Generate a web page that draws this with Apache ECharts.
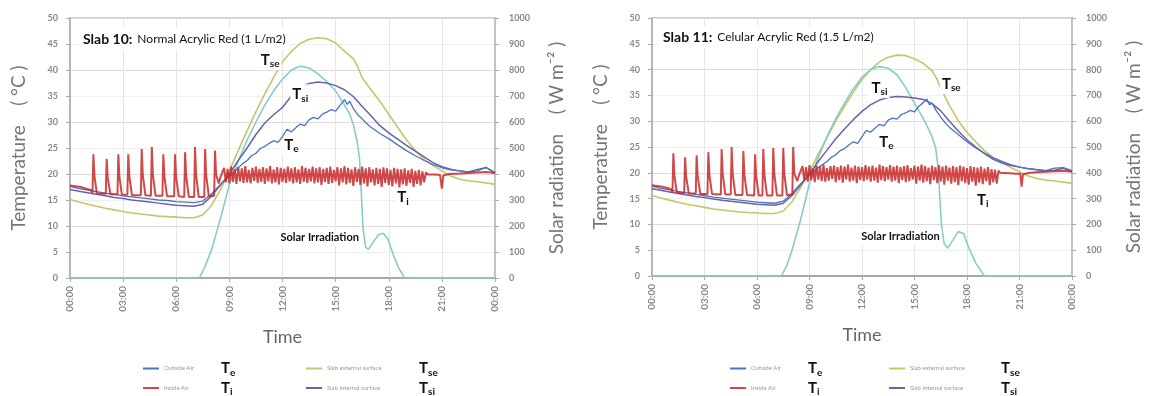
<!DOCTYPE html>
<html>
<head>
<meta charset="utf-8">
<script src="https://cdn.jsdelivr.net/npm/echarts@6/dist/echarts.min.js"></script>
<style>
html, body { margin: 0; padding: 0; background: #fff; }
#chart { width: 1150px; height: 396px; }
</style>
</head>
<body>
<div id="chart"></div>
<script>
// tick labels
var timeLabels = ['00:00', '03:00', '06:00', '09:00', '12:00', '15:00', '18:00', '21:00', '00:00'];

// ---- Slab 10 : [hour, value] ----
var te10 = [[0,17.6],[0.5,17.2],[1,16.9],[1.5,16.6],[2,16.3],[2.5,16.1],[3,15.8],[3.5,15.6],[4,15.4],[4.5,15.2],[5,15.0],[5.5,14.9],[6,14.7],[6.5,14.6],[7,14.5],[7.5,14.8],[8,16.2],[8.5,18.0],[9,19.6],[9.25,20.3],[9.5,21.2],[9.75,22.0],[10,22.6],[10.25,23.5],[10.5,24.0],[10.75,24.9],[11,25.3],[11.25,25.9],[11.5,26.4],[11.75,26.1],[12,27.2],[12.25,28.6],[12.5,28.1],[12.75,28.9],[13,29.6],[13.25,29.3],[13.5,30.4],[13.75,30.9],[14,30.6],[14.25,31.5],[14.5,31.9],[14.75,32.4],[15,32.1],[15.25,33.2],[15.5,34.3],[15.65,33.4],[15.8,34.0],[16,32.6],[16.25,31.4],[16.5,30.6],[16.75,29.7],[17,29.0],[17.5,27.8],[18,26.8],[18.5,25.6],[19,24.5],[19.5,23.5],[20,22.6],[20.5,21.8],[21,21.2],[21.5,20.8],[22,20.6],[22.5,20.4],[23,20.9],[23.5,21.2],[24,20.3]];
var tsi10 = [[0,17.0],[0.5,16.7],[1,16.4],[1.5,16.1],[2,15.8],[2.5,15.5],[3,15.3],[3.5,15.0],[4,14.8],[4.5,14.6],[5,14.4],[5.5,14.2],[6,14.0],[6.5,13.9],[7,13.8],[7.5,14.2],[8,15.8],[8.5,17.9],[9,20.0],[9.5,22.6],[10,25.0],[10.5,27.6],[11,29.8],[11.5,31.4],[12,32.8],[12.5,35.0],[13,36.6],[13.5,37.4],[14,37.7],[14.5,37.5],[15,37.0],[15.5,36.2],[16,34.9],[16.5,33.0],[17,31.2],[17.5,29.3],[18,27.9],[18.5,26.7],[19,25.5],[19.5,24.4],[20,23.3],[20.5,22.2],[21,21.4],[21.5,20.9],[22,20.6],[22.5,20.4],[23,20.6],[23.5,21.3],[24,20.1]];
var tse10 = [[0,15.1],[0.5,14.6],[1,14.2],[1.5,13.8],[2,13.4],[2.5,13.1],[3,12.8],[3.5,12.5],[4,12.3],[4.5,12.1],[5,11.9],[5.5,11.8],[6,11.7],[6.5,11.6],[7,11.6],[7.5,12.1],[8,14.0],[8.5,17.0],[9,20.6],[9.5,24.5],[10,28.3],[10.5,32.0],[11,35.4],[11.5,38.6],[12,41.6],[12.5,43.6],[13,45.1],[13.5,45.9],[14,46.2],[14.5,46.0],[15,45.2],[15.5,43.6],[16,42.2],[16.25,40.6],[16.5,38.5],[17,36.2],[17.5,34.0],[18,31.5],[18.5,29.0],[19,26.6],[19.5,24.5],[20,22.8],[20.5,21.6],[21,20.6],[21.5,19.6],[22,19.0],[22.5,18.7],[23,18.5],[23.5,18.3],[24,18.0]];
var solar10 = [[0,0],[7.3,0],[7.6,40],[8,110],[8.5,230],[9,360],[9.5,450],[10,530],[10.5,600],[11,665],[11.5,720],[12,765],[12.5,800],[13,815],[13.5,808],[14,785],[14.5,755],[15,720],[15.5,665],[15.8,630],[16,590],[16.2,530],[16.35,460],[16.45,330],[16.55,190],[16.7,118],[16.85,110],[17.1,135],[17.4,165],[17.7,172],[17.95,150],[18.25,90],[18.55,40],[18.9,0],[24,0]];
var ti10Night = [[0,17.8],[0.6,17.5],[1.2,16.9],
  [1.27,16.3],[1.32,23.8],[1.38,19.6],[1.52,16.2],
  [2.02,16.2],[2.07,22.9],[2.13,19.3],[2.28,16.1],
  [2.68,16.1],[2.73,23.8],[2.79,19.5],[2.93,16.0],
  [3.24,16.0],[3.29,23.8],[3.35,19.6],[3.5,15.9],
  [4.0,15.9],[4.05,24.8],[4.11,19.8],[4.26,15.9],
  [4.57,15.8],[4.62,25.2],[4.68,19.9],[4.83,15.8],
  [5.22,15.8],[5.27,23.8],[5.33,19.5],[5.48,15.7],
  [5.88,15.7],[5.93,23.8],[5.99,19.5],[6.14,15.7],
  [6.45,15.6],[6.5,24.2],[6.56,19.6],[6.71,15.6],
  [7.01,15.6],[7.06,25.2],[7.12,19.9],[7.27,15.6],
  [7.58,15.6],[7.63,24.8],[7.69,19.8],[7.84,15.7],
  [8.14,15.8],[8.19,24.5],[8.25,19.9],[8.4,18.2],[8.5,19.4]];
// inside air, every 0.1 h from 8.6 h
var ti10Band = [
  19.6,21.2,18.4,21.0,18.2,21.4,18.5,20.9,18.1,21.3,
  18.6,21.1,18.3,21.5,18.4,20.8,18.2,21.2,18.7,21.4,
  18.3,21.0,18.5,21.3,18.1,21.1,18.6,21.5,18.2,20.9,
  18.4,21.3,18.0,21.2,18.5,21.0,18.3,21.4,18.6,21.1,
  18.2,21.3,18.4,20.9,18.1,21.5,18.5,21.2,18.3,21.0,
  18.6,21.4,18.2,21.1,18.4,21.3,17.9,21.0,18.5,21.2,
  18.1,21.4,18.3,20.8,18.6,21.3,17.8,21.1,18.4,21.5,
  18.0,21.2,18.3,20.9,17.7,21.3,18.5,21.0,17.9,21.4,
  18.2,21.1,17.6,21.3,18.4,20.9,17.8,21.2,18.1,21.0,
  17.5,21.3,18.3,21.1,17.9,20.8,17.6,21.2,18.2,21.0,
  17.4,20.9,18.0,21.1,17.7,20.7,18.3,21.0,17.5,20.6,
  18.1,20.8,17.8,20.5,18.4,20.3,19.9];
var ti10Tail = [[20.3,20.1],[20.6,19.9],[20.9,19.8],[21.0,17.2],[21.08,19.7],[21.4,20.0],[22,20.1],[22.5,20.2],[23,20.3],[23.5,20.4],[24,20.2]];

// ---- Slab 11 ----
var te11 = [[0,17.4],[0.5,17.0],[1,16.7],[1.5,16.4],[2,16.1],[2.5,15.8],[3,15.6],[3.5,15.3],[4,15.1],[4.5,14.9],[5,14.7],[5.5,14.5],[6,14.3],[6.5,14.2],[7,14.1],[7.5,14.5],[8,16.0],[8.5,17.9],[9,19.5],[9.25,20.2],[9.5,21.0],[9.75,21.6],[10,22.2],[10.25,23.0],[10.5,23.5],[10.75,24.3],[11,24.7],[11.25,25.4],[11.5,26.0],[11.75,25.7],[12,27.0],[12.25,28.2],[12.5,27.9],[12.75,28.7],[13,29.4],[13.25,29.1],[13.5,30.2],[13.75,30.6],[14,30.4],[14.25,31.3],[14.5,31.6],[14.75,32.1],[15,31.8],[15.25,32.9],[15.5,33.6],[15.7,34.3],[15.85,33.2],[16,33.5],[16.25,32.0],[16.5,30.8],[16.75,29.7],[17,28.8],[17.5,27.4],[18,26.0],[18.5,24.8],[19,23.8],[19.5,22.9],[20,22.2],[20.5,21.6],[21,21.1],[21.5,20.8],[22,20.6],[22.5,20.4],[23,20.9],[23.5,21.0],[24,20.4]];
var tsi11 = [[0,16.9],[0.5,16.6],[1,16.3],[1.5,16.0],[2,15.7],[2.5,15.4],[3,15.2],[3.5,14.9],[4,14.7],[4.5,14.5],[5,14.3],[5.5,14.1],[6,13.9],[6.5,13.8],[7,13.7],[7.5,14.1],[8,15.6],[8.5,17.7],[9,19.8],[9.5,22.2],[10,24.4],[10.5,26.6],[11,28.5],[11.5,30.3],[12,31.9],[12.5,33.2],[13,34.1],[13.5,34.6],[14,34.8],[14.5,34.7],[15,34.5],[15.5,34.2],[16,33.4],[16.5,32.0],[17,30.0],[17.5,28.1],[18,26.4],[18.5,25.0],[19,23.7],[19.5,22.6],[20,21.9],[20.5,21.4],[21,21.1],[21.5,20.8],[22,20.6],[22.5,20.4],[23,20.5],[23.5,20.9],[24,20.2]];
var tse11 = [[0,15.6],[0.5,15.1],[1,14.7],[1.5,14.3],[2,13.9],[2.5,13.6],[3,13.3],[3.5,13.0],[4,12.8],[4.5,12.6],[5,12.4],[5.5,12.3],[6,12.2],[6.5,12.1],[7,12.1],[7.5,12.6],[8,14.4],[8.5,17.2],[9,20.2],[9.5,23.6],[10,26.8],[10.5,30.0],[11,32.9],[11.5,35.6],[12,38.1],[12.5,40.0],[13,41.5],[13.5,42.4],[14,42.8],[14.5,42.7],[15,42.1],[15.5,41.2],[16,39.8],[16.25,38.4],[16.5,36.4],[17,33.0],[17.5,30.1],[18,27.8],[18.5,26.0],[19,24.3],[19.5,23.0],[20,22.0],[20.5,21.0],[21,20.2],[21.5,19.4],[22,18.9],[22.5,18.6],[23,18.4],[23.5,18.2],[24,18.0]];
var solar11 = [[0,0],[7.4,0],[7.7,40],[8,100],[8.5,220],[9,360],[9.5,460],[10,540],[10.5,610],[11,670],[11.5,725],[12,770],[12.5,800],[13,812],[13.5,805],[14,780],[14.5,730],[15,670],[15.5,610],[15.8,570],[16,540],[16.2,500],[16.35,420],[16.45,300],[16.55,190],[16.7,125],[16.9,108],[17.2,140],[17.5,172],[17.8,165],[18.1,110],[18.5,50],[19,0],[24,0]];
var ti11Night = [[0,17.6],[0.6,17.3],[1.1,16.8],
  [1.17,16.2],[1.22,23.8],[1.28,19.5],[1.42,16.1],
  [1.84,16.1],[1.89,23.0],[1.95,19.3],[2.1,16.0],
  [2.5,16.0],[2.55,23.4],[2.61,19.4],[2.76,15.9],
  [3.17,15.9],[3.22,24.0],[3.28,19.6],[3.43,15.9],
  [3.93,15.8],[3.98,24.6],[4.04,19.8],[4.19,15.8],
  [4.5,15.8],[4.55,25.0],[4.61,19.9],[4.76,15.7],
  [5.17,15.7],[5.22,24.2],[5.28,19.6],[5.43,15.7],
  [5.84,15.6],[5.89,23.6],[5.95,19.4],[6.1,15.6],
  [6.31,15.6],[6.36,24.6],[6.42,19.8],[6.57,15.6],
  [6.88,15.6],[6.93,24.8],[6.99,19.8],[7.14,15.6],
  [7.45,15.6],[7.5,24.8],[7.56,19.8],[7.71,15.7],
  [8.02,15.8],[8.07,25.0],[8.13,19.9],[8.3,18.4],[8.4,19.5]];
// inside air, every 0.1 h from 8.5 h
var ti11Band = [
  19.7,21.3,18.5,21.1,18.3,21.5,18.6,20.9,18.2,21.4,
  18.7,21.2,18.4,21.6,18.3,20.9,18.5,21.3,18.8,21.4,
  18.2,21.1,18.6,21.4,18.1,21.2,18.7,21.6,18.3,21.0,
  18.5,21.4,18.0,21.2,18.6,21.1,18.4,21.5,18.7,21.2,
  18.3,21.4,18.5,21.0,18.1,21.6,18.6,21.3,18.4,21.1,
  18.7,21.5,18.3,21.2,18.5,21.4,18.0,21.1,18.6,21.3,
  18.2,21.5,18.4,20.9,18.7,21.4,17.9,21.2,18.5,21.6,
  18.1,21.3,18.4,21.0,17.8,21.4,18.6,21.1,18.0,21.5,
  18.3,21.2,17.7,21.4,18.5,21.0,17.9,21.3,18.2,21.1,
  17.6,21.4,18.4,21.2,18.0,20.9,17.7,21.3,18.3,21.1,
  17.5,21.0,18.1,21.2,17.8,20.8,18.4,21.1,17.6,20.7,
  18.2,20.6,17.9,20.4,20.0];
var ti11Tail = [[20.0,20.0],[20.4,19.9],[20.8,19.8],[21.05,19.8],[21.12,17.3],[21.2,19.7],[21.6,20.0],[22,20.1],[22.5,20.2],[23,20.3],[23.5,20.4],[24,20.2]];

var FONT = 'Lato';
var subs = {
    'Outside Air': 'e',
    'Inside Air': 'i',
    'Slab external surface': 'se',
    'Slab internal surface': 'si'
};

function band_pairs(start, step, values){
    return values.map(function(v, i){
        return [Math.round((start + i * step) * 100) / 100, v];
    });
}

var ti10 = ti10Night.concat(band_pairs(8.6, 0.1, ti10Band), ti10Tail);
var ti11 = ti11Night.concat(band_pairs(8.5, 0.1, ti11Band), ti11Tail);

var subRich = {
    t: { fontFamily: FONT, fontSize: 15, fontWeight: 'bold', color: '#111', lineHeight: 18 },
    u: { fontFamily: FONT, fontSize: 10, fontWeight: 'bold', color: '#111', lineHeight: 11, verticalAlign: 'bottom' },
    n: { fontFamily: FONT, fontSize: 11, fontWeight: 'bold', color: '#111', lineHeight: 14 }
};

function mark(coord, text){
    return {
        symbol: 'rect',
        symbolSize: 1,
        itemStyle: { color: 'rgba(0,0,0,0)' },
        label: {
            show: true,
            position: 'inside',
            backgroundColor: '#fff',
            padding: [1, 2],
            formatter: text,
            rich: subRich
        },
        data: [{ coord: coord }]
    };
}

function line(name, data, color, width, gi, yi, mp, z){
    return {
        name: name,
        type: 'line',
        data: data,
        xAxisIndex: gi,
        yAxisIndex: yi,
        symbol: 'none',
        z: z,
        lineStyle: { color: color, width: width },
        itemStyle: { color: color },
        markPoint: mp
    };
}

function panel(gi, d, m){
    var yl = gi * 2, yr = gi * 2 + 1;
    return [
        line('Slab external surface', d.tse, '#c3c66a', 1.6, gi, yl, mark(m.tse, '{t|T}{u|se}'), 2),
        line('Solar radiation', d.solar, '#86cccc', 1.6, gi, yr, mark(m.solar, '{n|Solar Irradiation}'), 3),
        line('Slab internal surface', d.tsi, '#6a62a8', 1.5, gi, yl, mark(m.tsi, '{t|T}{u|si}'), 4),
        line('Outside Air', d.te, '#4a74c0', 1.3, gi, yl, mark(m.te, '{t|T}{u|e}'), 5),
        line('Inside Air', d.ti, 'rgba(200,40,40,0.85)', 2, gi, yl, mark(m.ti, '{t|T}{u|i}'), 6)
    ];
}

function xaxis(gi){
    return {
        type: 'value', gridIndex: gi, min: 0, max: 24, interval: 3,
        name: 'Time', nameLocation: 'middle', nameGap: 50,
        nameTextStyle: { fontFamily: FONT, fontSize: 18, color: '#666' },
        axisLine: { lineStyle: { color: '#999', width: 1.5 } },
        axisTick: { show: true, length: 4, lineStyle: { color: '#aaa' } },
        axisLabel: {
            rotate: 90, fontFamily: FONT, fontSize: 10, fontWeight: 'bold', color: '#888', margin: 8,
            formatter: function(v){ return timeLabels[Math.round(v / 3)]; }
        },
        splitLine: { show: true, lineStyle: { color: '#e6e6e6' } }
    };
}

function yleft(gi, gap){
    return {
        type: 'value', gridIndex: gi, min: 0, max: 50, interval: 5, position: 'left',
        name: 'Temperature    ( °C )', nameLocation: 'middle', nameGap: gap, nameRotate: 90,
        nameTextStyle: { fontFamily: FONT, fontSize: 19, color: '#777' },
        axisLine: { show: true, lineStyle: { color: '#aaa', width: 1.5 } },
        axisTick: { show: true, length: 4, lineStyle: { color: '#aaa' } },
        axisLabel: { fontFamily: FONT, fontSize: 9, fontWeight: 'bold', color: '#888', margin: 12 },
        splitLine: { show: true, lineStyle: { color: ['#dcdcdc', '#efefef'] } }
    };
}

function yright(gi, gap){
    return {
        type: 'value', gridIndex: gi, min: 0, max: 1000, interval: 100, position: 'right',
        name: 'Solar radiation    ( W m⁻² )', nameLocation: 'middle', nameGap: gap, nameRotate: 90,
        nameTextStyle: { fontFamily: FONT, fontSize: 19, color: '#777' },
        axisLine: { show: true, lineStyle: { color: '#bbb', width: 1.5 } },
        axisTick: { show: true, length: 4, lineStyle: { color: '#aaa' } },
        axisLabel: { fontFamily: FONT, fontSize: 9, fontWeight: 'bold', color: '#888', margin: 14,
            formatter: function(v){ return String(v); } },
        splitLine: { show: false }
    };
}

function legend(left, names, w){
    return {
        left: left, top: 361, height: 50, padding: 0, orient: 'vertical', itemGap: 3,
        icon: 'rect', itemWidth: 16, itemHeight: 2,
        data: names,
        selectedMode: false,
        formatter: function(name){
            return '{s|' + name + '}{t|T}{u|' + subs[name] + '}';
        },
        textStyle: {
            rich: {
                s: { fontFamily: FONT, fontSize: 6, color: '#999', width: w },
                t: subRich.t,
                u: subRich.u
            }
        }
    };
}

var chart = echarts.init(document.getElementById('chart'), null, { renderer: 'canvas' });

var titleRich = {
    b: { fontFamily: FONT, fontSize: 14, fontWeight: 'bold', color: '#111' },
    r: { fontFamily: FONT, fontSize: 12, fontWeight: 'normal', color: '#111' }
};

chart.setOption({
    animation: false,
    backgroundColor: '#fff',
    title: [
        { text: '{b|Slab 10:} {r|Normal Acrylic Red (1 L/m2)}', left: 80, top: 28, padding: [2, 3], backgroundColor: '#fff', textStyle: { rich: titleRich } },
        { text: '{b|Slab 11:} {r|Celular Acrylic Red (1.5 L/m2)}', left: 660, top: 26, padding: [2, 3], backgroundColor: '#fff', textStyle: { rich: titleRich } }
    ],
    grid: [
        { left: 70, top: 18, width: 425, height: 260, show: true, borderColor: '#d0d0d0', borderWidth: 2, backgroundColor: '#fff' },
        { left: 652, top: 18, width: 420, height: 258, show: true, borderColor: '#d0d0d0', borderWidth: 2, backgroundColor: '#fff' }
    ],
    legend: [
        legend(143, ['Outside Air', 'Inside Air'], 57),
        legend(306, ['Slab external surface', 'Slab internal surface'], 92),
        legend(730, ['Outside Air', 'Inside Air'], 57),
        legend(889, ['Slab external surface', 'Slab internal surface'], 91)
    ],
    xAxis: [xaxis(0), xaxis(1)],
    yAxis: [yleft(0, 42), yright(0, 52), yleft(1, 42), yright(1, 52)],
    series: [].concat(
        panel(0, { te: te10, ti: ti10, tse: tse10, tsi: tsi10, solar: solar10 },
              { tse: [11.3, 41.9], tsi: [13.0, 35.3], te: [12.5, 25.6], ti: [18.8, 15.5], solar: [14.1, 155] }),
        panel(1, { te: te11, ti: ti11, tse: tse11, tsi: tsi11, solar: solar11 },
              { tse: [17.1, 37.2], tsi: [13.0, 36.4], te: [13.4, 26.0], ti: [18.9, 14.7], solar: [14.2, 152] })
    )
});

window.onresize = function(){
    chart.resize();
};
</script>
</body>
</html>
